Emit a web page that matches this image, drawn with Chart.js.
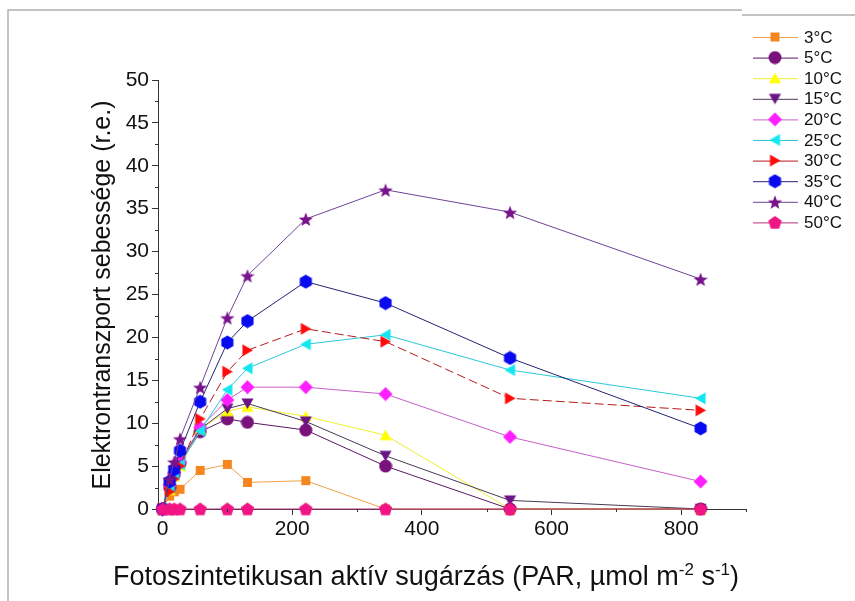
<!DOCTYPE html>
<html lang="hu">
<head>
<meta charset="UTF-8">
<title>Elektrontranszport sebessége</title>
<script src="https://cdn.jsdelivr.net/npm/chart.js@4/dist/chart.umd.min.js"></script>
<style>
  html, body { margin: 0; padding: 0; background: #fff; }
  #chart { display: block; }
</style>
</head>
<body>
<canvas id="chart" width="855" height="601"></canvas>
<script>
// PAR values (x) and one array per temperature
const par = [0, 11, 18, 27, 58, 100, 131, 221, 344, 536, 830];

const t3  = [0, 1.5, 2.0, 2.3, 4.5, 5.2, 3.1, 3.3, 0, 0, 0];
const t5  = [0, 2.5, 4.0, 5.3, 9.0, 10.5, 10.1, 9.2, 5.0, 0, 0];
const t10 = [0, 2.2, 3.8, 5.0, 9.3, 11.4, 11.9, 10.8, 8.6, 0, 0];
const t15 = [0, 3.0, 4.5, 5.5, 9.3, 11.7, 12.3, 10.2, 6.2, 1.0, 0];
const t20 = [0, 2.8, 4.2, 5.5, 9.5, 12.7, 14.2, 14.2, 13.4, 8.4, 3.2];
const t25 = [0, 2.5, 4.0, 5.2, 9.1, 13.9, 16.4, 19.2, 20.3, 16.2, 12.9];
const t30 = [0, 2.0, 3.5, 5.0, 10.5, 16.0, 18.5, 21.0, 19.5, 12.9, 11.5];
const t35 = [0, 3.2, 4.6, 6.8, 12.5, 19.4, 21.9, 26.5, 24.0, 17.6, 9.4];
const t40 = [0, 3.5, 5.5, 8.2, 14.2, 22.3, 27.2, 33.8, 37.2, 34.6, 26.8];
const t50 = [0, 0, 0, 0, 0, 0, 0, 0, 0, 0, 0];

const labels = ['3°C', '5°C', '10°C', '15°C', '20°C', '25°C', '30°C', '35°C', '40°C', '50°C'];
const xTicks = [0, 200, 400, 600, 800];

const font = '"Liberation Sans", Arial, sans-serif';

// marker images
function polygon(ctx, n, r, cx, cy, rot) {
  ctx.beginPath();
  for (let i = 0; i < n; i++) {
    const a = rot + i * 2 * Math.PI / n;
    const px = cx + r * Math.cos(a), py = cy + r * Math.sin(a);
    if (i === 0) ctx.moveTo(px, py); else ctx.lineTo(px, py);
  }
  ctx.closePath();
}
function marker(shape, color, size) {
  const c = document.createElement('canvas');
  c.width = size; c.height = size;
  const g = c.getContext('2d');
  const m = size / 2, r = size / 2 - 0.5;
  g.fillStyle = color;
  if (shape === 'square') {
    g.beginPath(); g.rect(1, 1, size - 2, size - 2);
  } else if (shape === 'circle') {
    g.beginPath(); g.arc(m, m, r, 0, 2 * Math.PI);
  } else if (shape === 'up') {
    polygon(g, 3, r, m, m + 1.5, -Math.PI / 2);
  } else if (shape === 'down') {
    polygon(g, 3, r, m, m - 1.5, Math.PI / 2);
  } else if (shape === 'left') {
    polygon(g, 3, r, m + 1.5, m, Math.PI);
  } else if (shape === 'right') {
    polygon(g, 3, r, m - 1.5, m, 0);
  } else if (shape === 'diamond') {
    polygon(g, 4, r, m, m, 0);
  } else if (shape === 'hex') {
    polygon(g, 6, r, m, m, Math.PI / 6);
  } else if (shape === 'penta') {
    polygon(g, 5, r, m, m + 0.5, -Math.PI / 2);
  } else if (shape === 'star') {
    g.beginPath();
    for (let i = 0; i < 10; i++) {
      const rr = i % 2 ? r * 0.42 : r;
      const a = -Math.PI / 2 + i * Math.PI / 5;
      const px = m + rr * Math.cos(a), py = m + 1 + rr * Math.sin(a);
      if (i === 0) g.moveTo(px, py); else g.lineTo(px, py);
    }
    g.closePath();
  }
  g.fill();
  return c;
}

const styles = [
  { line: '#EDA24A', fill: '#F5861F', shape: 'square', size: 11 },
  { line: '#5A1760', fill: '#7A127C', shape: 'circle', size: 14 },
  { line: '#EEEE30', fill: '#FFFF00', shape: 'up', size: 15 },
  { line: '#4A3A55', fill: '#6A1585', shape: 'down', size: 15 },
  { line: '#C45EC8', fill: '#FF1EFF', shape: 'diamond', size: 15 },
  { line: '#2CC8D8', fill: '#12E6F0', shape: 'left', size: 15 },
  { line: '#B51A1A', fill: '#FF0A0A', shape: 'right', size: 15, dash: [9, 4] },
  { line: '#232375', fill: '#0A0AF0', shape: 'hex', size: 15 },
  { line: '#6E4496', fill: '#78138C', shape: 'star', size: 16 },
  { line: '#B5307A', fill: '#F01484', shape: 'penta', size: 15 }
];
const series = [t3, t5, t10, t15, t20, t25, t30, t35, t40, t50];

const datasets = series.map((vals, i) => ({
  label: labels[i],
  data: par.map((x, j) => ({ x: x, y: vals[j] })),
  borderColor: styles[i].line,
  borderWidth: 1,
  borderDash: styles[i].dash || [],
  pointStyle: marker(styles[i].shape, styles[i].fill, styles[i].size),
  pointRadius: 6,
  tension: 0,
  fill: false,
  clip: false,
  order: 10 - i
}));

// axis titles (with real superscripts), minor ticks, legend and frame
const extras = {
  id: 'extras',
  afterDraw(chart) {
    const ctx = chart.ctx;
    const xs = chart.scales.x, ys = chart.scales.y;
    ctx.save();
    ctx.strokeStyle = '#333';
    ctx.lineWidth = 1;
    ctx.beginPath();
    for (let v = 100; v <= 900; v += 200) {
      const px = Math.round(xs.getPixelForValue(v)) + 0.5;
      ctx.moveTo(px, ys.bottom); ctx.lineTo(px, ys.bottom + 3);
    }
    for (let v = 2.5; v < 50; v += 5) {
      const py = Math.round(ys.getPixelForValue(v)) + 0.5;
      ctx.moveTo(xs.left, py); ctx.lineTo(xs.left - 3, py);
    }
    ctx.stroke();

    // frame
    ctx.strokeStyle = '#b0b0b0';
    ctx.lineWidth = 1.5;
    ctx.beginPath();
    ctx.moveTo(8, 601); ctx.lineTo(8, 10); ctx.lineTo(742, 10);
    ctx.moveTo(742, 15); ctx.lineTo(855, 15);
    ctx.stroke();

    ctx.fillStyle = '#111';
    ctx.textBaseline = 'alphabetic';

    // x title
    const big = '27px ' + font, small = '17px ' + font;
    const parts = [
      ['Fotoszintetikusan aktív sugárzás (PAR, µmol m', big, 0],
      ['-2', small, -10],
      [' s', big, 0],
      ['-1', small, -10],
      [')', big, 0]
    ];
    let w = 0;
    parts.forEach(p => { ctx.font = p[1]; w += ctx.measureText(p[0]).width; });
    let x = 426 - w / 2;
    parts.forEach(p => {
      ctx.font = p[1];
      ctx.textAlign = 'left';
      ctx.fillText(p[0], x, 585 + p[2]);
      x += ctx.measureText(p[0]).width;
    });

    // y title
    ctx.save();
    ctx.translate(110, 295);
    ctx.rotate(-Math.PI / 2);
    ctx.font = '25px ' + font;
    ctx.textAlign = 'center';
    ctx.fillText('Elektrontranszport sebessége (r.e.)', 0, 0);
    ctx.restore();

    // legend
    ctx.font = '17px ' + font;
    ctx.textAlign = 'left';
    ctx.textBaseline = 'middle';
    chart.data.datasets.forEach((d, i) => {
      const y = 37 + i * 20.6;
      ctx.strokeStyle = d.borderColor;
      ctx.lineWidth = 1;
      ctx.setLineDash([]);
      ctx.beginPath();
      ctx.moveTo(753, y + 0.5); ctx.lineTo(798, y + 0.5);
      ctx.stroke();
      const img = d.pointStyle;
      ctx.drawImage(img, 775 - img.width / 2, y - img.height / 2);
      ctx.fillText(d.label, 804, y + 1);
    });
    ctx.restore();
  }
};

new Chart(document.getElementById('chart'), {
  type: 'line',
  data: { datasets },
  options: {
    responsive: false,
    animation: false,
    devicePixelRatio: 1,
    layout: { padding: { left: 80, right: 109, top: 80, bottom: 10 } },
    plugins: { legend: { display: false }, tooltip: { enabled: false } },
    scales: {
      x: {
        type: 'linear',
        min: -7,
        max: 900,
        afterBuildTicks: s => { s.ticks = xTicks.map(v => ({ value: v })); },
        afterFit: s => { s.height = 82; },
        grid: { drawOnChartArea: false, drawTicks: true, tickLength: 6, color: '#333' },
        border: { color: '#333', width: 1 },
        ticks: { color: '#111', font: { family: font, size: 21 }, padding: 2, maxRotation: 0 },
        title: { display: false }
      },
      y: {
        type: 'linear',
        min: 0,
        max: 50,
        afterFit: s => { s.width = 78; },
        grid: { drawOnChartArea: false, drawTicks: true, tickLength: 6, color: '#333' },
        border: { color: '#333', width: 1 },
        ticks: { stepSize: 5, color: '#111', font: { family: font, size: 21 }, padding: 3 },
        title: { display: false }
      }
    }
  },
  plugins: [extras]
});
</script>
</body>
</html>
